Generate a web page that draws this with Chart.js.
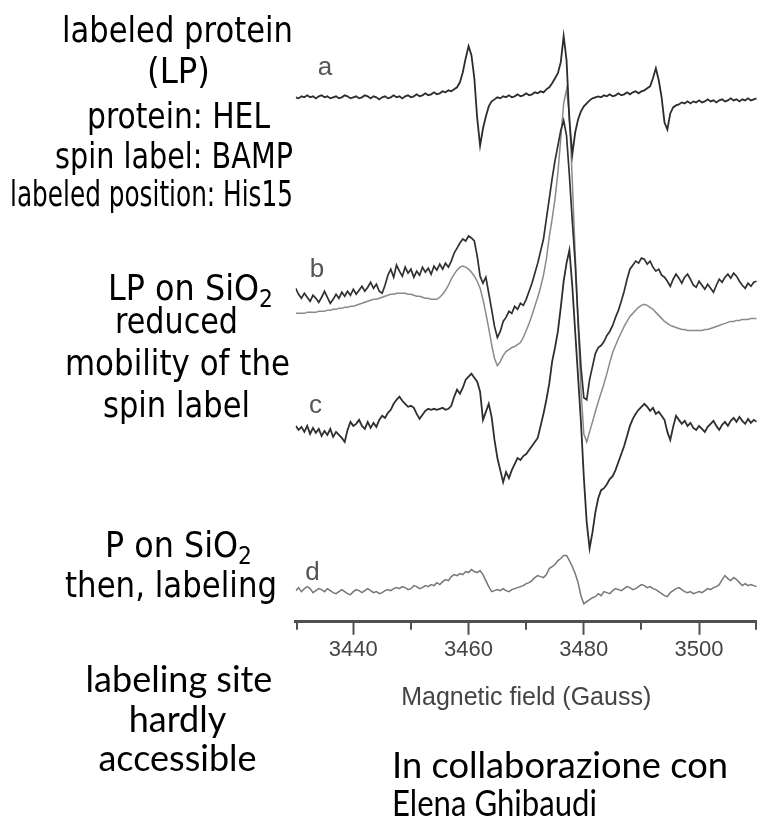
<!DOCTYPE html>
<html>
<head>
<meta charset="utf-8">
<script src="https://cdn.jsdelivr.net/npm/chart.js@4.4.1/dist/chart.umd.min.js"></script>
<style>
  html, body { margin: 0; padding: 0; background: #fff; }
  #wrap { position: relative; width: 763px; height: 821px; overflow: hidden; background: #fff; }
  #chart { position: absolute; left: 0; top: 0; }
  #notes { position: absolute; left: 0; top: 0; pointer-events: none; }
</style>
</head>
<body>
<div id="wrap">
  <canvas id="chart" width="763" height="821"></canvas>
  <svg id="notes" width="763" height="821" viewBox="0 0 763 821" xmlns="http://www.w3.org/2000/svg">
    <g font-family="'DejaVu Sans', Verdana, sans-serif" font-size="35" fill="#000" text-anchor="middle">
      <text x="177.5" y="42" textLength="231" lengthAdjust="spacingAndGlyphs">labeled protein</text>
      <text x="178.5" y="83" textLength="63" lengthAdjust="spacingAndGlyphs">(LP)</text>
      <text x="178.5" y="128" textLength="183" lengthAdjust="spacingAndGlyphs">protein: HEL</text>
      <text x="174" y="168" textLength="238" lengthAdjust="spacingAndGlyphs">spin label: BAMP</text>
      <text x="151.5" y="206" textLength="283" lengthAdjust="spacingAndGlyphs">labeled position: His15</text>
      <text x="190.5" y="300" textLength="165" lengthAdjust="spacingAndGlyphs">LP on SiO<tspan font-size="24" dy="7">2</tspan></text>
      <text x="176.5" y="333" textLength="123" lengthAdjust="spacingAndGlyphs">reduced</text>
      <text x="177.5" y="375" textLength="225" lengthAdjust="spacingAndGlyphs">mobility of the</text>
      <text x="176.5" y="417" textLength="147" lengthAdjust="spacingAndGlyphs">spin label</text>
      <text x="178.5" y="557" textLength="147" lengthAdjust="spacingAndGlyphs">P on SiO<tspan font-size="24" dy="7">2</tspan></text>
      <text x="171" y="597" textLength="212" lengthAdjust="spacingAndGlyphs">then, labeling</text>
    </g>
    <g font-family="Lato, 'Open Sans', sans-serif" font-size="36" fill="#000">
      <text x="179" y="692" text-anchor="middle">labeling site</text>
      <text x="177.5" y="732" text-anchor="middle">hardly</text>
      <text x="177.5" y="771" text-anchor="middle">accessible</text>
      <text x="392" y="778" textLength="336" lengthAdjust="spacingAndGlyphs">In collaborazione con</text>
      <text x="392" y="816" textLength="205" lengthAdjust="spacingAndGlyphs">Elena Ghibaudi</text>
    </g>
    <g font-family="'Liberation Sans', Arial, sans-serif" font-size="26" fill="#555" text-anchor="middle">
      <text x="325" y="75">a</text>
      <text x="317" y="277">b</text>
      <text x="315.5" y="413">c</text>
      <text x="312.5" y="580">d</text>
    </g>
  </svg>
</div>
<script>
// Magnetic field sweep (Gauss)
const field = [
  3430,3430.5,3431,3431.5,3432,3432.5,3433,3433.5,3434,3434.5,
  3435,3435.5,3436,3436.5,3437,3437.5,3438,3438.5,3439,3439.5,
  3440,3440.5,3441,3441.5,3442,3442.5,3443,3443.5,3444,3444.5,
  3445,3445.5,3446,3446.5,3447,3447.5,3448,3448.5,3449,3449.5,
  3450,3450.5,3451,3451.5,3452,3452.5,3453,3453.5,3454,3454.5,
  3455,3455.5,3456,3456.5,3457,3457.5,3458,3458.5,3459,3459.5,
  3460,3460.5,3461,3461.5,3462,3462.5,3463,3463.5,3464,3464.5,
  3465,3465.5,3466,3466.5,3467,3467.5,3468,3468.5,3469,3469.5,
  3470,3470.5,3471,3471.5,3472,3472.5,3473,3473.5,3474,3474.5,
  3475,3475.5,3476,3476.5,3477,3477.5,3478,3478.5,3479,3479.5,
  3480,3480.5,3481,3481.5,3482,3482.5,3483,3483.5,3484,3484.5,
  3485,3485.5,3486,3486.5,3487,3487.5,3488,3488.5,3489,3489.5,
  3490,3490.5,3491,3491.5,3492,3492.5,3493,3493.5,3494,3494.5,
  3495,3495.5,3496,3496.5,3497,3497.5,3498,3498.5,3499,3499.5,
  3500,3500.5,3501,3501.5,3502,3502.5,3503,3503.5,3504,3504.5,
  3505,3505.5,3506,3506.5,3507,3507.5,3508,3508.5,3509,3509.5,
  3510
];

// (a) labeled protein in solution (stacked, arbitrary units)
const specA = [
  522,521,523,522,524,522,523,521,523,524,
  522,523,521,522,523,521,522,524,523,521,
  522,523,521,522,524,523,521,523,522,520,
  522,523,521,522,524,522,523,521,523,524,
  522,523,525,523,524,526,524,525,527,525,
  526,528,527,529,528,530,532,537,547,561,
  573,564,541,501,474,491,503,513,518,520,
  522,521,523,522,524,522,523,525,523,524,
  526,524,525,527,526,528,527,530,532,536,
  541,546,557,583,559,499,465,487,500,508,
  513,516,519,521,522,523,522,524,523,525,
  523,524,526,524,525,527,525,527,528,526,
  528,529,531,533,541,551,539,522,497,490,
  506,512,514,515,517,516,518,516,518,517,
  519,517,518,520,518,519,517,519,520,518,
  519,521,519,520,518,520,519,521,519,520,
  521
];

// (b) labeled protein on SiO2, experimental
const specB = [
  332,326,322,327,323,319,325,322,318,323,
  329,323,317,321,326,322,328,324,329,325,
  331,326,330,334,329,333,338,332,336,329,
  327,335,345,351,343,355,349,344,353,347,
  351,343,349,345,353,348,352,346,354,350,
  356,351,357,353,359,367,372,377,381,379,
  384,382,379,364,344,337,343,327,311,294,
  283,289,299,303,309,307,314,311,317,315,
  321,329,337,347,357,369,381,401,421,441,
  459,474,489,499,484,444,399,357,301,254,
  223,221,241,254,267,273,275,279,285,289,
  295,303,310,319,329,341,351,355,359,357,
  362,361,356,359,353,349,351,345,343,339,
  334,341,346,342,337,343,346,341,335,333,
  339,335,331,336,332,328,335,341,338,343,
  346,342,347,344,339,335,332,337,334,338,
  339
];

// (b) simulated spectrum
const specBSim = [
  307,307,307,307,308,308,308,308,309,309,
  309,310,310,311,311,312,312,313,313,314,
  314,315,316,317,318,319,320,321,321,322,
  323,324,325,326,326,327,327,327,327,326,
  326,325,324,324,323,322,322,321,321,321,
  323,326,330,335,341,346,350,353,354,353,
  351,348,344,339,332,321,307,292,276,262,
  255,259,265,269,271,273,274,276,278,283,
  290,297,305,314,323,333,345,361,383,401,
  421,447,481,516,530,504,439,367,297,231,
  187,179,189,199,209,219,228,237,247,258,
  268,275,282,288,294,299,304,307,310,313,
  315,316,315,313,311,308,305,302,299,297,
  295,294,293,292,291,291,290,290,290,290,
  290,290,291,291,292,293,294,295,296,297,
  298,299,299,300,300,301,301,301,302,302,
  302
];

// (c) labeled protein on SiO2, second preparation
const specC = [
  195,191,194,189,195,187,193,188,192,185,
  190,186,192,184,189,186,183,179,191,199,
  195,197,201,195,192,199,193,198,194,201,
  205,203,208,211,217,221,224,220,217,214,
  215,213,207,202,206,210,212,211,212,211,
  212,213,211,212,215,224,231,227,233,241,
  244,247,243,239,229,201,209,217,204,181,
  163,151,139,149,143,151,157,163,161,165,
  167,171,175,179,183,195,207,221,237,259,
  273,289,313,339,357,370,334,289,244,199,
  144,99,73,89,109,123,131,133,137,142,
  145,151,159,167,175,185,195,202,207,211,
  214,217,214,210,213,207,209,205,201,189,
  181,194,205,201,197,200,195,198,193,191,
  195,192,189,194,197,200,195,191,196,199,
  195,200,203,199,204,200,197,202,198,201,
  199
];

// (d) protein on SiO2, labeled afterwards
const specD = [
  31,34,30,33,35,33,29,31,33,32,
  30,33,31,29,28,30,32,30,28,27,
  30,32,31,29,31,33,31,29,30,28,
  29,31,32,31,33,34,33,35,34,32,
  33,36,35,33,34,36,35,37,36,39,
  37,40,42,41,45,47,46,48,47,50,
  49,52,50,49,51,47,41,35,30,31,
  32,31,33,31,30,32,33,34,35,36,
  38,39,41,44,46,45,44,47,53,55,
  57,61,63,66,66,61,55,48,39,26,
  18,20,22,24,25,28,26,30,29,28,
  31,33,32,31,33,35,34,32,33,35,
  37,36,34,35,33,32,30,28,26,25,
  29,31,33,34,32,30,29,30,28,29,
  30,29,31,33,32,34,35,37,42,46,
  43,41,44,42,39,36,38,36,37,36,
  35
];

// Axis ticks (Gauss)
const majorTicks = [3440, 3460, 3480, 3500];
const minorTicks = [3430, 3450, 3470, 3490, 3510];

const toPoints = (vals) => field.map((x, i) => ({ x: x, y: vals[i] }));

// shorter, unlabeled tick marks between the labeled ones
const minorTickPlugin = {
  id: 'minorTickMarks',
  afterDraw(chart) {
    const sx = chart.scales.x;
    const ctx = chart.ctx;
    const y0 = chart.chartArea.bottom;
    ctx.save();
    ctx.strokeStyle = '#505050';
    ctx.lineWidth = 2;
    minorTicks.forEach((f) => {
      let x = Math.round(sx.getPixelForValue(f));
      if (f === minorTicks[0]) x += 1;
      if (f === minorTicks[minorTicks.length - 1]) x -= 1;
      ctx.beginPath();
      ctx.moveTo(x, y0);
      ctx.lineTo(x, y0 + 8);
      ctx.stroke();
    });
    ctx.restore();
  }
};

const lineSet = (label, vals, color, width) => ({
  label: label,
  data: toPoints(vals),
  borderColor: color,
  borderWidth: width,
  pointRadius: 0,
  tension: 0,
  fill: false
});

new Chart(document.getElementById('chart'), {
  type: 'line',
  data: {
    datasets: [
      lineSet('a', specA, '#2c2c2c', 1.8),
      lineSet('b', specB, '#303030', 1.7),
      lineSet('c', specC, '#2e2e2e', 1.8),
      lineSet('b (simulation)', specBSim, '#8a8a8a', 1.5),
      lineSet('d', specD, '#767676', 1.5)
    ]
  },
  options: {
    responsive: false,
    animation: false,
    events: [],
    layout: { padding: { left: 295.7, right: 6.3, top: 20, bottom: 107.8 } },
    plugins: { legend: { display: false }, tooltip: { enabled: false } },
    scales: {
      x: {
        type: 'linear',
        min: 3430,
        max: 3510,
        afterBuildTicks: (axis) => { axis.ticks = majorTicks.map((v) => ({ value: v })); },
        ticks: {
          callback: (v) => String(v),
          font: { family: "'Liberation Sans', Arial, sans-serif", size: 22 },
          color: '#444',
          padding: 2,
          maxRotation: 0
        },
        grid: {
          display: true,
          drawOnChartArea: false,
          drawTicks: true,
          tickLength: 13,
          tickWidth: 2,
          tickColor: '#505050'
        },
        border: { display: true, width: 3, color: '#505050' },
        title: {
          display: true,
          text: 'Magnetic field (Gauss)',
          font: { family: "'Liberation Sans', Arial, sans-serif", size: 25 },
          color: '#444',
          padding: { top: 18, bottom: 0 }
        }
      },
      y: {
        type: 'linear',
        display: false,
        min: 0,
        max: 599
      }
    }
  },
  plugins: [minorTickPlugin]
});
</script>
</body>
</html>
